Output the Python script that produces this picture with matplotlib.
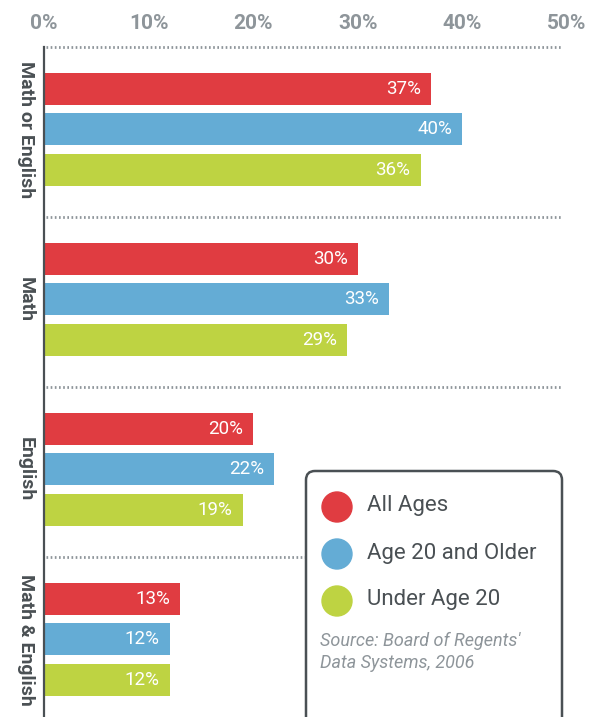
import numpy as np
import matplotlib
matplotlib.use("Agg")
import matplotlib.pyplot as plt
from matplotlib.patches import FancyBboxPatch, Circle

groups = ["Math or English", "Math", "English", "Math & English"]
series = ["All Ages", "Age 20 and Older", "Under Age 20"]
all_ages = [37, 30, 20, 13]
age_20_older = [40, 33, 22, 12]
under_20 = [36, 29, 19, 12]
ticks = [0, 10, 20, 30, 40, 50]
source = "Source: Board of Regents'\nData Systems, 2006"

colors = ["#e03c41", "#64acd5", "#bed342"]
gray = "#8e959a"
dark = "#4a5054"

plt.rcParams["font.family"] = ["Roboto", "DejaVu Sans"]

fig = plt.figure(figsize=(6.02, 7.17), dpi=100)
W, H = 602, 717
left, right, top = 44, 567, 47
ax = fig.add_axes([left / W, 0, (right - left) / W, (H - top) / H])

pitch = 170.0
ax.set_xlim(0, 50)
ax.set_ylim((H - top) / pitch, 0)

offsets = [-40.5 / pitch, 0, 40.5 / pitch]
bar_h = 32 / pitch
centers = np.arange(len(groups)) + 0.485
for k, vals in enumerate([all_ages, age_20_older, under_20]):
    ys = centers + offsets[k]
    ax.barh(ys, vals, height=bar_h, color=colors[k], zorder=2)
    for y, v in zip(ys, vals):
        ax.text(v - 0.95, y, f"{v}%", color="white", fontsize=13.5,
                ha="right", va="center", zorder=3)

# dotted separators
for i in range(len(groups)):
    ax.plot([0.2, 49.4], [i, i], color=gray, lw=2, ls=(0, (0.6, 0.9)),
            solid_capstyle="butt", clip_on=False, zorder=1)

# group labels
for c, g in zip(centers, groups):
    ax.text(-1.75, c, g, rotation=270, ha="center", va="center",
            fontsize=14, fontweight="bold", color=dark, clip_on=False)

ax.xaxis.tick_top()
ax.set_xticks(ticks)
ax.set_xticklabels([f"{t}%" for t in ticks])
ax.tick_params(axis="x", length=0, pad=10, labelsize=15, labelcolor=gray)
for lab in ax.get_xticklabels():
    lab.set_fontweight("bold")
ax.set_yticks([])
for s in ["top", "right", "bottom"]:
    ax.spines[s].set_visible(False)
ax.spines["left"].set_color(dark)
ax.spines["left"].set_linewidth(1.6)

# legend box in pixel coordinates
lg = fig.add_axes([0, 0, 1, 1], zorder=5)
lg.set_xlim(0, W)
lg.set_ylim(H, 0)
lg.axis("off")
box = FancyBboxPatch((306, 471), 256, 280, boxstyle="round,pad=0,rounding_size=9",
                     facecolor="white", edgecolor=dark, lw=1.8, clip_on=False)
lg.add_patch(box)
for k, name in enumerate(series):
    y = 507 + k * 47
    lg.add_patch(Circle((337, y), 15, color=colors[k]))
    lg.text(367, y - 1, name, fontsize=16, color=dark, va="center", ha="left")
lg.text(320, 652, source, fontsize=13, color=gray, style="italic",
        va="center", ha="left", linespacing=1.3)

fig.savefig("out.png", dpi=100)
